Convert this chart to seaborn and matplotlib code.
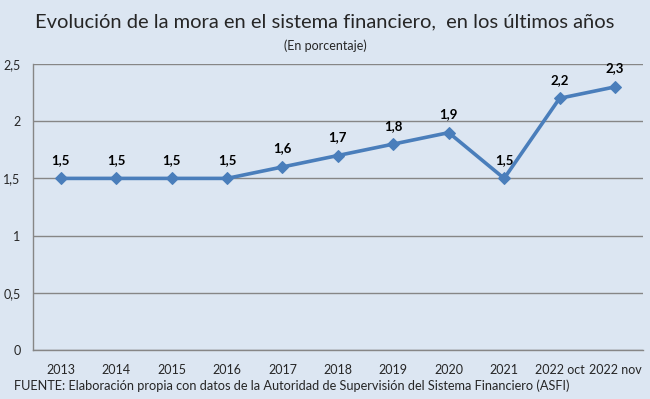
import numpy as np
import matplotlib.pyplot as plt
import seaborn as sns
import pandas as pd

periodos = ['2013', '2014', '2015', '2016', '2017', '2018', '2019', '2020', '2021',
            '2022 oct', '2022 nov']
mora = [1.5, 1.5, 1.5, 1.5, 1.6, 1.7, 1.8, 1.9, 1.5, 2.2, 2.3]
y_ticks = [0, 0.5, 1, 1.5, 2, 2.5]
y_labels = ['0', '0,5', '1', '1,5', '2', '2,5']

bg = '#DCE6F2'
azul = '#4A7EBB'
gris = '#868686'

sns.set_style('white')
plt.rcParams['font.family'] = ['Lato', 'DejaVu Sans']

df = pd.DataFrame({'x': np.arange(len(periodos)), 'mora': mora})

fig = plt.figure(figsize=(6.5, 3.99), dpi=100, facecolor=bg)
ax = fig.add_axes([0.0508, 0.1228, 0.938, 0.7168])
ax.set_facecolor(bg)

sns.lineplot(data=df, x='x', y='mora', ax=ax, color=azul, linewidth=2.6,
             marker='D', markersize=6.5, markeredgecolor=azul, zorder=3)

for i, v in enumerate(mora):
    ax.annotate(f'{v:.1f}'.replace('.', ','), (i, v), xytext=(0, 9),
                textcoords='offset points', ha='center', va='bottom',
                fontsize=9.5, fontweight='bold', color='black')

ax.set_xlim(-0.5, len(periodos) - 0.5)
ax.set_ylim(0, 2.5)
ax.set_yticks(y_ticks)
ax.set_yticklabels(y_labels, fontsize=9)
ax.set_xticks(np.arange(len(periodos)))
ax.set_xticklabels(periodos, fontsize=9)
ax.set_xticks(np.arange(len(periodos) + 1) - 0.5, minor=True)
ax.tick_params(axis='x', which='major', length=0, pad=10)
ax.tick_params(axis='x', which='minor', length=5, color=gris, direction='out')
ax.tick_params(axis='y', length=5, color=gris, direction='out', pad=4)
ax.yaxis.grid(True, color=gris, linewidth=1)
ax.set_xlabel('')
ax.set_ylabel('')

for s in ['top', 'right']:
    ax.spines[s].set_visible(False)
for s in ['left', 'bottom']:
    ax.spines[s].set_color(gris)
    ax.spines[s].set_linewidth(1)

fig.text(0.5, 0.945, 'Evolución de la mora en el sistema financiero,  en los últimos años',
         ha='center', va='center', fontsize=14.5)
fig.text(0.5, 0.885, '(En porcentaje)', ha='center', va='center', fontsize=9)
fig.text(0.022, 0.033, 'FUENTE: Elaboración propia con datos de la Autoridad de Supervisión del Sistema Financiero (ASFI)',
         ha='left', va='center', fontsize=9.2)

fig.savefig('out.png', dpi=100, facecolor=bg)
